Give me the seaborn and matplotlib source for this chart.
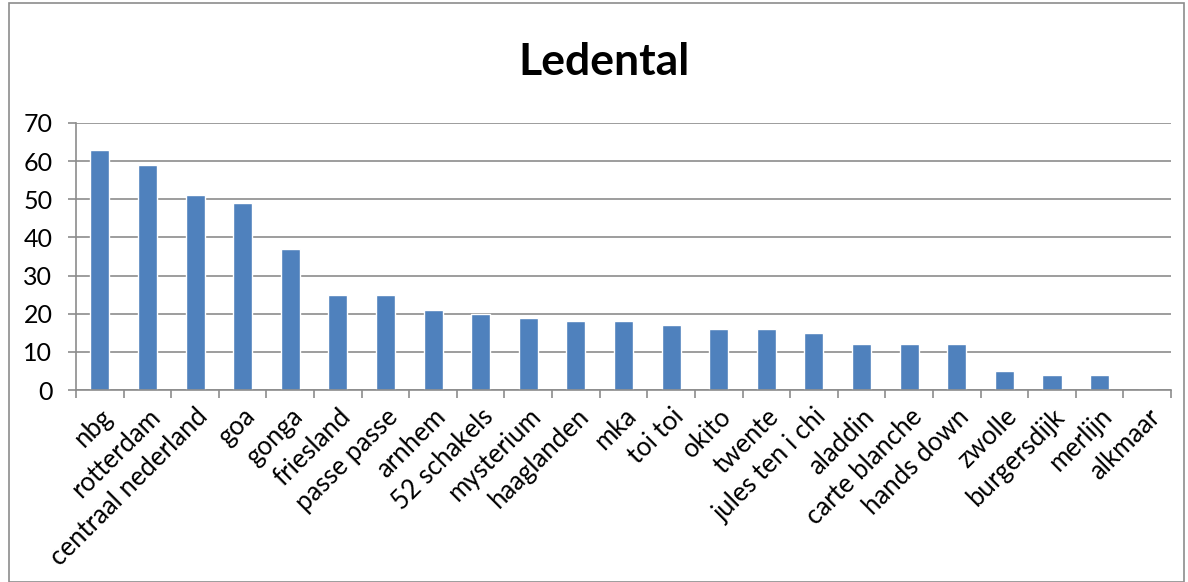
import matplotlib
matplotlib.use("Agg")
import matplotlib.pyplot as plt
import seaborn as sns
import pandas as pd
from matplotlib.patches import Rectangle

categories = ["nbg", "rotterdam", "centraal nederland", "goa", "gonga", "friesland",
              "passe passe", "arnhem", "52 schakels", "mysterium", "haaglanden", "mka",
              "toi toi", "okito", "twente", "jules ten i chi", "aladdin", "carte blanche",
              "hands down", "zwolle", "burgersdijk", "merlijn", "alkmaar"]
values = [63, 59, 51, 49, 37, 25, 25, 21, 20, 19, 18, 18, 17, 16, 16, 15, 12, 12, 12, 5, 4, 4, 0]
yticks = [0, 10, 20, 30, 40, 50, 60, 70]
title = "Ledental"

sns.set_theme(style="white")
plt.rcParams['font.family'] = ['Lato', 'DejaVu Sans']
plt.rcParams['text.color'] = 'black'
plt.rcParams['xtick.color'] = 'black'
plt.rcParams['ytick.color'] = 'black'

df = pd.DataFrame({"cat": categories, "val": values})

fig = plt.figure(figsize=(11.88, 5.82), dpi=100)
ax = fig.add_axes([76/1188, 1-390/582, (1171-76)/1188, (390-123)/582])
sns.barplot(data=df, x="cat", y="val", color="#4F81BD", saturation=1, width=0.4, ax=ax)

ax.set_ylim(0, 70)
ax.set_xlim(-0.5, len(categories)-0.5)
ax.set_yticks(yticks)
ax.set_yticklabels([str(t) for t in yticks], fontsize=18, color="black")
ax.yaxis.grid(True, color="#8c8c8c", linewidth=1.2)
ax.set_axisbelow(True)
ax.set_xlabel("")
ax.set_ylabel("")
ax.set_xticks(range(len(categories)))
ax.set_xticklabels(categories, rotation=45, ha="right", rotation_mode="anchor", fontsize=18.5, color="black")
ax.tick_params(axis="x", length=0, pad=10)
ax.tick_params(axis="y", length=6, color="#8c8c8c", width=1.2, left=True, pad=11)
# category boundary ticks
ax.set_xticks([i - 0.5 for i in range(len(categories)+1)], minor=True)
ax.tick_params(axis="x", which="minor", length=6, color="#8c8c8c", width=1.2, bottom=True)
for s in ["top", "right"]:
    ax.spines[s].set_visible(False)
for s in ["left", "bottom"]:
    ax.spines[s].set_color("#8c8c8c")
    ax.spines[s].set_linewidth(1.2)

fig.text(604/1188, 1-62/582, title, ha="center", va="center", fontsize=32, fontweight="bold", color="black")
fig.patches.append(Rectangle((9/1188, 0.0), (1184-9)/1188, 1-3/582, transform=fig.transFigure,
                             fill=False, edgecolor="#8c8c8c", linewidth=1.2))
fig.savefig("out.png", dpi=100)
